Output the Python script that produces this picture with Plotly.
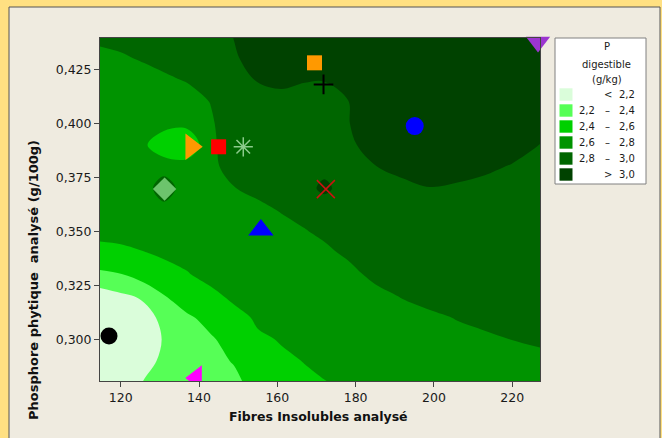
import plotly.graph_objects as go

# ---------------- contour grid of P digestible (g/kg) ----------------
x_nodes = [114, 120, 126, 131, 137, 143, 149, 155, 161, 167, 172, 178, 185, 192, 199, 206, 213, 220, 228]
y_nodes = [0.28, 0.29, 0.30, 0.31, 0.32, 0.33, 0.34, 0.35, 0.36, 0.37, 0.38, 0.39, 0.40, 0.41, 0.42, 0.43, 0.44]

z_c114 = [2.05, 2.03, 2.02, 2.05, 2.09, 2.36, 2.53, 2.66, 2.68, 2.70, 2.71, 2.72, 2.73, 2.74, 2.76, 2.785, 2.81]
z_c120 = [2.08, 2.05, 2.03, 2.08, 2.166, 2.39, 2.59, 2.615, 2.66, 2.69, 2.71, 2.72, 2.73, 2.74, 2.76, 2.79, 2.823]
z_c126 = [2.21, 2.15, 2.12, 2.14, 2.226, 2.507, 2.595, 2.67, 2.70, 2.72, 2.68, 2.63, 2.66, 2.74, 2.77, 2.8075, 2.84]
z_c131 = [2.25, 2.23, 2.21, 2.24, 2.39, 2.55, 2.62, 2.68, 2.74, 2.90, 2.72, 2.45, 2.68, 2.73, 2.77, 2.85, 2.88]
z_c137 = [2.30, 2.31, 2.34, 2.37, 2.51, 2.59, 2.65, 2.69, 2.72, 2.70, 2.70, 2.42, 2.66, 2.73, 2.81, 2.86, 2.90]
z_c143 = [2.33, 2.35, 2.38, 2.46, 2.56, 2.65, 2.70, 2.73, 2.75, 2.76, 2.77, 2.77, 2.78, 2.805, 2.86, 2.90, 2.93]
z_c149 = [2.36, 2.412, 2.47, 2.55, 2.633, 2.67, 2.71, 2.74, 2.77, 2.797, 2.85, 2.88, 2.90, 2.93, 2.96, 2.985, 3.004]
z_c155 = [2.47, 2.52, 2.58, 2.621, 2.66, 2.69, 2.72, 2.75, 2.78, 2.822, 2.86, 2.90, 2.93, 2.96, 3.005, 3.05, 3.09]
z_c161 = [2.53, 2.58, 2.608, 2.65, 2.68, 2.71, 2.74, 2.77, 2.806, 2.85, 2.89, 2.92, 2.95, 2.975, 3.017, 3.06, 3.10]
z_c167 = [2.58, 2.6035, 2.64, 2.67, 2.70, 2.73, 2.76, 2.795, 2.83, 2.925, 2.93, 2.95, 2.97, 2.985, 3.002, 3.05, 3.09]
z_c172 = [2.595, 2.63, 2.66, 2.69, 2.72, 2.75, 2.78, 2.818, 2.87, 3.05, 2.93, 2.95, 2.97, 2.985, 3.001, 3.05, 3.10]
z_c178 = [2.62, 2.65, 2.68, 2.71, 2.74, 2.77, 2.815, 2.85, 2.88, 2.90, 2.93, 2.985, 2.995, 2.997, 3.02, 3.06, 3.10]
z_c185 = [2.64, 2.67, 2.70, 2.73, 2.77, 2.824, 2.86, 2.89, 2.93, 2.96, 2.998, 3.03, 3.06, 3.08, 3.10, 3.12, 3.14]
z_c192 = [2.66, 2.69, 2.72, 2.76, 2.806, 2.85, 2.89, 2.92, 2.95, 2.98, 3.023, 3.06, 3.09, 3.10, 3.11, 3.12, 3.13]
z_c199 = [2.68, 2.71, 2.74, 2.78, 2.836, 2.87, 2.90, 2.93, 2.96, 2.997, 3.05, 3.08, 3.10, 3.10, 3.11, 3.12, 3.13]
z_c206 = [2.70, 2.73, 2.77, 2.805, 2.84, 2.87, 2.90, 2.93, 2.96, 2.99, 3.028, 3.06, 3.08, 3.09, 3.10, 3.11, 3.12]
z_c213 = [2.72, 2.75, 2.79, 2.815, 2.85, 2.88, 2.91, 2.94, 2.96, 2.98, 3.013, 3.04, 3.06, 3.07, 3.08, 3.09, 3.10]
z_c220 = [2.74, 2.77, 2.801, 2.83, 2.86, 2.89, 2.91, 2.93, 2.95, 2.97, 2.995, 3.028, 3.05, 3.06, 3.07, 3.08, 3.09]
z_c228 = [2.76, 2.785, 2.811, 2.84, 2.87, 2.89, 2.91, 2.93, 2.95, 2.965, 2.98, 2.995, 3.017, 3.035, 3.045, 3.055, 3.065]

z_columns = [z_c114, z_c120, z_c126, z_c131, z_c137, z_c143, z_c149, z_c155, z_c161,
             z_c167, z_c172, z_c178, z_c185, z_c192, z_c199, z_c206, z_c213, z_c220, z_c228]
z_rows = [list(r) for r in zip(*z_columns)]

# ---------------- sample points ----------------
sample_x = [117.0, 139.3, 226.6, 169.5, 171.8, 195.1, 172.4, 138.0, 145.0, 151.3, 131.2, 155.8]
sample_y = [0.3015, 0.2821, 0.4378, 0.4281, 0.4181, 0.3988, 0.3696, 0.3892, 0.3892, 0.3892, 0.3696, 0.3506]

# ---------------- contour levels / legend ----------------
levels = [2.2, 2.4, 2.6, 2.8, 3.0]
legend_title = ["P", "digestible", "(g/kg)"]

# ---------------- styles ----------------
band_colors = ["#DAFDDA", "#56FF56", "#00D000", "#009300", "#006600", "#004200"]
pt_symbols = ["circle", "triangle-left", "triangle-down", "square", "cross-thin-open", "circle",
              "x-thin-open", "triangle-right", "square", "asterisk-open", "diamond", "triangle-up"]
pt_colors = ["#000000", "#FF00FF", "#9B35D0", "#FF9900", "#000000", "#0000FF",
             "#CC1111", "#FF9900", "#FF0000", "#8CCB8C", "#6CC46C", "#0000FF"]
pt_sizes = [17, 22, 21, 15, 14, 18, 18, 23, 15, 16, 18, 22]
pt_lw = [0, 0, 0, 0, 2, 0, 1.5, 0, 0, 1.5, 0, 0]
pt_clip = [True, True, False, True, True, True, True, True, True, True, True, True]

FONT = "DejaVu Sans"
W, H = 662, 438
ML, MR, MT, MB = 100, 122, 38, 57
PW, PH = W - ML - MR, H - MT - MB


def px(xp):
    return (xp - ML) / PW


def py(yp):
    return (H - MB - yp) / PH


def fmt(v):
    return f"{v:.1f}".replace(".", ",")


# stepped colorscale: band k sampled at k/5
cs = []
bounds = [0.0, 0.1, 0.3, 0.5, 0.7, 0.9, 1.0]
for k, c in enumerate(band_colors):
    cs.append([bounds[k], c])
    cs.append([bounds[k + 1], c])

fig = go.Figure()
fig.add_trace(go.Contour(
    x=x_nodes, y=y_nodes, z=z_rows,
    autocontour=False,
    contours=dict(start=levels[0], end=levels[-1], size=0.2, coloring="fill", showlines=False),
    colorscale=cs, showscale=False,
    line=dict(width=0, smoothing=1.0),
    hoverinfo="skip",
))

for clipflag in (True, False):
    idx = [i for i in range(len(sample_x)) if pt_clip[i] == clipflag]
    fig.add_trace(go.Scatter(
        x=[sample_x[i] for i in idx], y=[sample_y[i] for i in idx],
        mode="markers", cliponaxis=clipflag, hoverinfo="skip",
        marker=dict(symbol=[pt_symbols[i] for i in idx],
                    color=[pt_colors[i] for i in idx],
                    size=[pt_sizes[i] for i in idx],
                    opacity=1,
                    line=dict(width=[pt_lw[i] for i in idx],
                              color=[pt_colors[i] for i in idx])),
        showlegend=False,
    ))

shapes = [
    dict(type="rect", xref="paper", yref="paper", x0=px(9), x1=px(660), y0=py(445), y1=py(7),
         fillcolor="#EFEBE0", line=dict(color="#555555", width=1), layer="below"),
    dict(type="rect", xref="paper", yref="paper", x0=px(555), x1=px(646), y0=py(184), y1=py(38),
         fillcolor="#FFFFFF", line=dict(color="#808080", width=1), layer="above"),
]
annotations = []
for i, t in enumerate(legend_title):
    annotations.append(dict(xref="paper", yref="paper", x=px(606.7), y=py([46.7, 64.3, 79.3][i]),
                            text=t, showarrow=False, xanchor="center", yanchor="middle",
                            font=dict(family=FONT, size=10, color="#1a1a1a")))

row_c = [94.5, 110.5, 126.5, 142.5, 158.5, 174.5]
for k in range(6):
    yc = row_c[k]
    shapes.append(dict(type="rect", xref="paper", yref="paper", x0=px(559.5), x1=px(572.5),
                       y0=py(yc + 6.2), y1=py(yc - 6.2), fillcolor=band_colors[k],
                       line=dict(width=0), layer="above"))
    if k == 0:
        parts = [("<", 608.3, "center"), (fmt(levels[0]), 637.3, "right")]
    elif k == 5:
        parts = [(">", 608.3, "center"), (fmt(levels[-1]), 637.3, "right")]
    else:
        parts = [(fmt(levels[k - 1]), 597.3, "right"), ("\u2013", 607.5, "center"),
                 (fmt(levels[k]), 637.3, "right")]
    for txt, xx, anc in parts:
        annotations.append(dict(xref="paper", yref="paper", x=px(xx), y=py(yc), text=txt,
                                showarrow=False, xanchor=anc, yanchor="middle",
                                font=dict(family=FONT, size=10, color="#1a1a1a")))

annotations.append(dict(xref="paper", yref="paper", x=px(318.5), y=py(416.7),
                        text="Fibres Insolubles analysé", showarrow=False,
                        xanchor="center", yanchor="middle",
                        font=dict(family=FONT, size=12.5, color="#111111", weight="bold")))
annotations.append(dict(xref="paper", yref="paper", x=px(33), y=py(280),
                        text="Phosphore phytique\u00a0 analysé (g/100g)", showarrow=False,
                        textangle=-90, xanchor="center", yanchor="middle",
                        font=dict(family=FONT, size=13, color="#111111", weight="bold")))

axis_common = dict(showgrid=False, zeroline=False, showline=True, mirror=True,
                   linecolor="#444444", linewidth=1, ticks="outside", ticklen=5,
                   tickcolor="#444444", tickfont=dict(family=FONT, size=12.5, color="#1a1a1a"))

fig.update_layout(
    width=W, height=H,
    margin=dict(l=ML, r=MR, t=MT, b=MB, pad=0),
    paper_bgcolor="#FFE082", plot_bgcolor="#EFEBE0",
    separators=", ",
    showlegend=False,
    shapes=shapes, annotations=annotations,
    xaxis=dict(range=[114.7, 227.1], tickvals=[120, 140, 160, 180, 200, 220], **axis_common),
    yaxis=dict(range=[0.2807, 0.4396], tickvals=[0.300, 0.325, 0.350, 0.375, 0.400, 0.425],
               tickformat=".3f", **axis_common),
)

fig.write_html("out.html", config={"displayModeBar": False},
               post_script="document.body.style.margin='0px';document.body.style.padding='0px';document.body.style.overflow='hidden';")
